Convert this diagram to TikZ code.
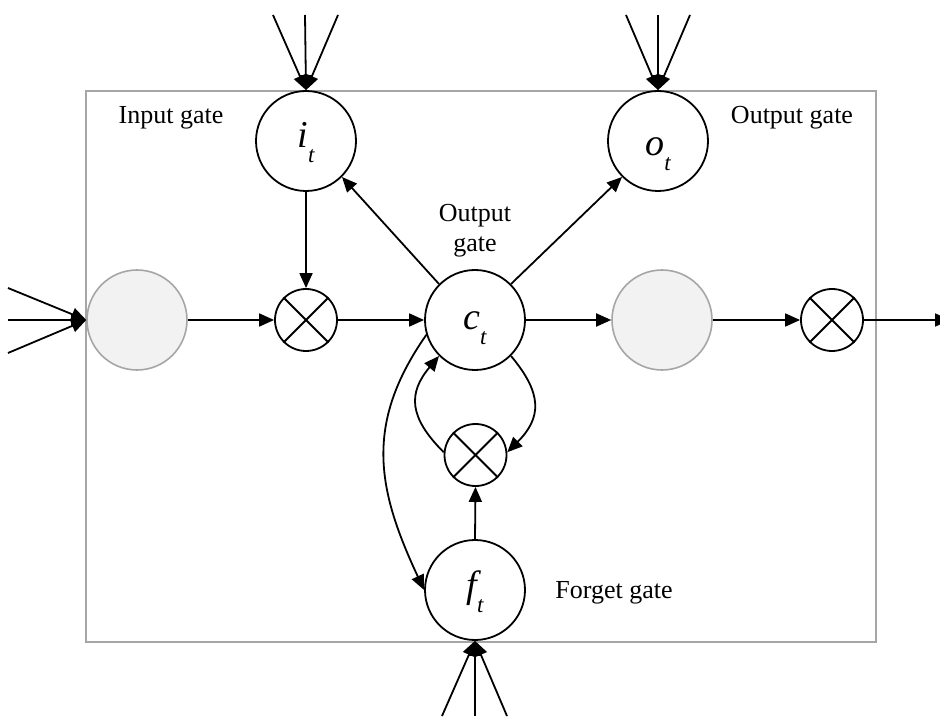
\documentclass[tikz,border=0pt]{standalone}
\usepackage{fontspec}
\setmainfont{Liberation Serif}
\usetikzlibrary{arrows.meta}
\definecolor{boxgrey}{RGB}{166,166,166}
\definecolor{fillgrey}{RGB}{242,242,242}
\newcommand\gsub[1]{\raisebox{-15pt}{\fontsize{23}{23}\selectfont #1}}
\begin{document}
\begin{tikzpicture}[x=1pt,y=1pt,
  ln/.style={line width=1.8pt},
  arr/.style={ln,-{Triangle[length=15pt,width=13pt]}},
  gatecirc/.style={circle,draw,line width=1.8pt,minimum size=100pt,inner sep=0pt},
  greycirc/.style={circle,draw=boxgrey,fill=fillgrey,line width=1.6pt,minimum size=100pt,inner sep=0pt},
  multcirc/.style={circle,draw,line width=1.8pt,minimum size=62pt,inner sep=0pt},
  lbl/.style={font=\fontsize{26}{30}\selectfont,inner sep=0pt},
  sym/.style={font=\fontsize{38}{38}\selectfont\itshape,inner sep=0pt,anchor=base},
]
\useasboundingbox (0,0) rectangle (940,716);
\draw[boxgrey,line width=1.6pt] (86,74) rectangle (876,625);

% nodes
\node[gatecirc] (it) at (306,575) {};
\node[gatecirc] (ot) at (658,575) {};
\node[gatecirc] (ct) at (475,396) {};
\node[gatecirc] (ft) at (475,126) {};
\node[greycirc] (gin) at (137,396) {};
\node[greycirc] (gout) at (662,396) {};
\node[multcirc] (m1) at (306,396) {};
\node[multcirc] (m2) at (832,396) {};
\node[multcirc] (m3) at (475.5,261) {};
\foreach \m in {m1,m2,m3} {
  \draw[ln] (\m.45) -- (\m.225);
  \draw[ln] (\m.135) -- (\m.315);
}

% symbols
\node[sym] (itl) at (306,568) {i\gsub{t}};
\node[sym] (otl) at (658,560) {o\gsub{t}};
\node[sym] (ctl) at (475,386) {c\gsub{t}};
\node[sym] (ftl) at (475,119) {f\gsub{t}};

% labels
\node[lbl,anchor=base] (linput) at (171,592) {Input gate};
\node[lbl,anchor=base] (loutput) at (792,592) {Output gate};
\node[lbl,align=center] (lmid) at (475,485) {Output\\gate};
\node[lbl,anchor=base] (lforget) at (614,118) {Forget gate};

% external inputs
\coordinate (ia) at (273,701);
\coordinate (ib) at (305,701);
\coordinate (ic) at (338,701);
\coordinate (oa) at (626,701);
\coordinate (ob) at (658,701);
\coordinate (oc) at (690,701);
\coordinate (la) at (8,428);
\coordinate (lb) at (8,396);
\coordinate (lc) at (8,363);
\coordinate (fa) at (442,0);
\coordinate (fb) at (475,0);
\coordinate (fc) at (507,0);
\coordinate (outend) at (950,396);
\foreach \p in {ia,ib,ic} \draw[arr] (\p) -- (it.north);
\foreach \p in {oa,ob,oc} \draw[arr] (\p) -- (ot.north);
\foreach \p in {la,lb,lc} \draw[arr] (\p) -- (gin.west);
\foreach \p in {fa,fb,fc} \draw[arr] (\p) -- (ft.south);

% internal connectors
\draw[arr] (gin.east) -- (m1.west);
\draw[arr] (m1.east) -- (ct.west);
\draw[arr] (it.south) -- (m1.north);
\draw[arr] (ct.135) -- (it.-45);
\draw[arr] (ct.45) -- (ot.225);
\draw[arr] (ct.east) -- (gout.west);
\draw[arr] (gout.east) -- (m2.west);
\draw[arr] (m2.east) -- (outend);
\draw[arr] (ft.north) -- (m3.south);
\draw[arr] (ct.-45) to[out=-50,in=45,looseness=1.3] (m3.5);
\draw[arr] (m3.175) to[out=135,in=230,looseness=1.3] (ct.225);
\draw[arr] (ct.197) to[out=235,in=115,looseness=1.1] (ft.west);
\end{tikzpicture}
\end{document}
